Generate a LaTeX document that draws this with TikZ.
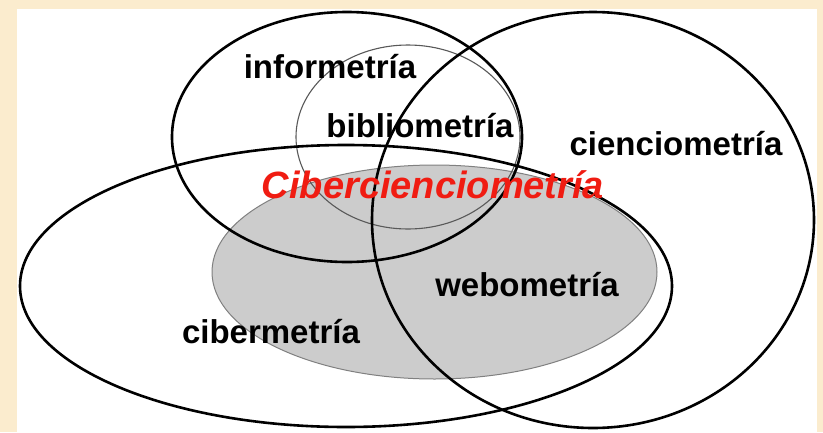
\documentclass[tikz,border=0pt]{standalone}
\usepackage{fontspec}
\setmainfont{Liberation Sans}
\usetikzlibrary{shapes.geometric}
\definecolor{bgbeige}{RGB}{251,236,206}
\definecolor{webgray}{RGB}{204,204,204}
\definecolor{cyberred}{RGB}{240,28,18}
\begin{document}
\begin{tikzpicture}[x=1pt,y=-1pt,
  ring/.style={draw=black,line width=2.6pt},
  thinring/.style={draw=black!65,line width=1.1pt},
  lbl/.style={font=\bfseries\fontsize{33}{33}\selectfont, anchor=base, inner sep=0pt},
  redlbl/.style={font=\bfseries\itshape\fontsize{38}{38}\selectfont, text=cyberred, anchor=base, inner sep=0pt}
]
\fill[bgbeige] (0,0) rectangle (823,432);
\fill[white] (17,9) rectangle (817,432);
\useasboundingbox (0,0) rectangle (823,432);
% webometria (grey)
\filldraw[fill=webgray, draw=black!50, line width=1pt] (434.5,272) ellipse [x radius=222.5, y radius=107];
% bibliometria (thin)
\draw[thinring] (408,137) ellipse [x radius=112, y radius=92];
% informetria
\draw[ring] (347,137) ellipse [x radius=175, y radius=125];
% cienciometria
\draw[ring] (593,220) ellipse [x radius=221, y radius=208];
% cibermetria
\draw[ring] (346,286) ellipse [x radius=326, y radius=141];
% labels
\node[lbl] (info) at (330,78) {informetría};
\node[lbl] (biblio) at (420,137) {bibliometría};
\node[lbl] (cienc) at (676,155) {cienciometría};
\node[redlbl] (ciberc) at (433,198) {Cibercienciometría};
\node[lbl] (webo) at (527,296) {webometría};
\node[lbl] (ciber) at (271,343) {cibermetría};
\end{tikzpicture}
\end{document}
